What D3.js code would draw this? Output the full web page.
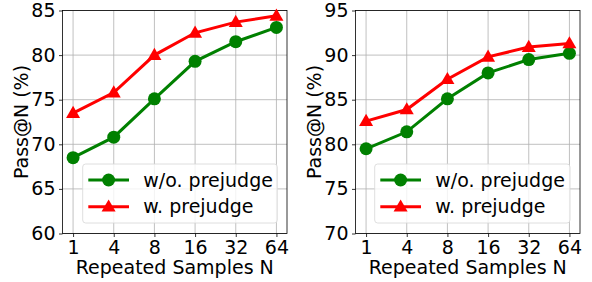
<!DOCTYPE html>
<html><head><meta charset="utf-8">
<script src="https://cdn.jsdelivr.net/npm/d3@7"></script>
<style>body{margin:0;background:#fff}svg{display:block}text{font-family:"DejaVu Sans",sans-serif;fill:#000}</style>
</head><body><svg id="c" width="592" height="282"></svg>
<script>
const categories = ["1","4","8","16","32","64"];
const leftWithout = [68.5, 70.8, 75.1, 79.3, 81.5, 83.1];
const leftWith = [73.5, 75.8, 80.0, 82.5, 83.7, 84.4];
const rightWithout = [79.5, 81.4, 85.1, 88.0, 89.5, 90.2];
const rightWith = [82.6, 83.9, 87.3, 89.8, 90.9, 91.3];
const leftTicks = [60, 65, 70, 75, 80, 85];
const rightTicks = [70, 75, 80, 85, 90, 95];
const seriesNames = ["w/o. prejudge", "w. prejudge"];
const colors = ["#008000", "#ff0000"];

const svg = d3.select("#c");
const plotTop = 10.5, plotBottom = 233.5;
const FS = "19px";

function panel(x0, x1, ticks, series, legendX0, legendX1) {
  const g = svg.append("g");
  const xs = d3.scaleLinear().domain([-0.26, 5.26]).range([x0, x1]);
  const ys = d3.scaleLinear().domain([ticks[0], ticks[ticks.length-1]]).range([plotBottom, plotTop]);
  g.selectAll(".gx").data(categories).enter().append("line")
    .attr("x1", (d,i)=>xs(i)).attr("x2",(d,i)=>xs(i)).attr("y1", plotTop).attr("y2", plotBottom)
    .attr("stroke","#b0b0b0").attr("stroke-width",0.8);
  g.selectAll(".gy").data(ticks).enter().append("line")
    .attr("y1", d=>ys(d)).attr("y2", d=>ys(d)).attr("x1", x0).attr("x2", x1)
    .attr("stroke","#b0b0b0").attr("stroke-width",0.8);
  const ax = d3.axisBottom(xs).tickValues(d3.range(categories.length)).tickFormat(i=>categories[i]).tickSize(3.5).tickPadding(3.6);
  const ay = d3.axisLeft(ys).tickValues(ticks).tickSize(3.5).tickPadding(3.5);
  const gx = g.append("g").attr("transform",`translate(0,${plotBottom})`).call(ax);
  const gy = g.append("g").attr("transform",`translate(${x0},0)`).call(ay);
  [gx,gy].forEach(a=>{a.select(".domain").remove();a.selectAll("text").style("font-size",FS).style("font-family","DejaVu Sans").attr("fill","#000");a.selectAll("line").attr("stroke","#000").attr("stroke-width",0.8);});
  g.append("rect").attr("x",x0).attr("y",plotTop).attr("width",x1-x0).attr("height",plotBottom-plotTop)
    .attr("fill","none").attr("stroke","#000").attr("stroke-width",0.8);
  const line = d3.line().x((d,i)=>xs(i)).y(d=>ys(d));
  const tri = d3.symbol().type(d3.symbolTriangle).size(85);
  series.forEach((s,k)=>{
    g.append("path").datum(s).attr("d",line).attr("fill","none").attr("stroke",colors[k]).attr("stroke-width",3);
    if(k===0){
      g.selectAll(".c"+k).data(s).enter().append("circle").attr("cx",(d,i)=>xs(i)).attr("cy",d=>ys(d)).attr("r",6.5).attr("fill",colors[k]);
    } else {
      g.selectAll(".t"+k).data(s).enter().append("path").attr("d",tri).attr("transform",(d,i)=>`translate(${xs(i)},${ys(d)+0.8})`).attr("fill",colors[k]);
    }
  });
  g.append("text").attr("x",(x0+x1)/2).attr("y",274.3).attr("text-anchor","middle").style("font-size",FS).text("Repeated Samples N");
  g.append("text").attr("transform",`translate(${x0-34.2},${(plotTop+plotBottom)/2}) rotate(-90)`).attr("text-anchor","middle").style("font-size",FS).text("Pass@N (%)");
  const lg = g.append("g");
  lg.append("rect").attr("x",legendX0).attr("y",164).attr("width",legendX1-legendX0).attr("height",59).attr("rx",3)
    .attr("fill","rgba(255,255,255,0.8)").attr("stroke","#d6d6d6").attr("stroke-width",0.8);
  seriesNames.forEach((n,k)=>{
    const cy = k===0?180:206.7;
    const lx = legendX0+5.6;
    lg.append("line").attr("x1",lx).attr("x2",lx+40.7).attr("y1",cy).attr("y2",cy).attr("stroke",colors[k]).attr("stroke-width",3);
    if(k===0) lg.append("circle").attr("cx",lx+20.3).attr("cy",cy).attr("r",6.5).attr("fill",colors[k]);
    else lg.append("path").attr("d",tri).attr("transform",`translate(${lx+20.3},${cy+0.8})`).attr("fill",colors[k]);
    lg.append("text").attr("x",legendX0+60.6).attr("y",cy).attr("dy","0.35em").style("font-size",FS).text(n);
  });
}

panel(62.5, 287, leftTicks, [leftWithout, leftWith], 82.7, 277.3);
panel(355.5, 580, rightTicks, [rightWithout, rightWith], 374.7, 570);
</script></body></html>
